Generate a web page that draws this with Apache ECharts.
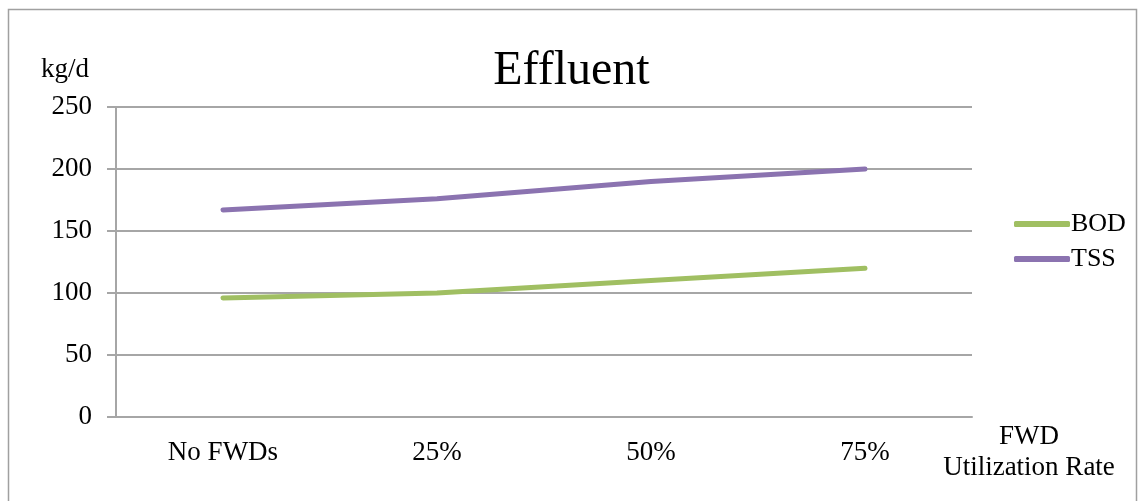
<!DOCTYPE html>
<html>
<head>
<meta charset="utf-8">
<title>Effluent</title>
<script src="https://cdn.jsdelivr.net/npm/echarts@6/dist/echarts.min.js"></script>
<style>
  html, body { margin: 0; padding: 0; background: #ffffff; }
  #chart { width: 1143px; height: 501px; }
</style>
</head>
<body>
<div id="chart"></div>
<script>
// Effluent loads (kg/d) by FWD utilization rate
const categories = ['No FWDs', '25%', '50%', '75%'];
const bodValues = [96, 100, 110, 120];
const tssValues = [167, 176, 190, 200];
const yTicks = { min: 0, max: 250, interval: 50 };

const serif = '"Liberation Serif", "DejaVu Serif", serif';
const gridGray = '#a6a6a6';

const chart = echarts.init(document.getElementById('chart'), null, { renderer: 'canvas' });

chart.setOption({
  backgroundColor: '#ffffff',
  animation: false,
  title: {
    text: 'Effluent',
    left: 'center',
    top: 42,
    textStyle: { fontFamily: serif, fontSize: 48, fontWeight: 'normal', color: '#000' }
  },
  legend: {
    orient: 'vertical',
    left: 1009,
    top: 206,
    itemWidth: 56,
    itemHeight: 6,
    itemGap: 9,
    icon: 'roundRect',
    data: ['BOD', 'TSS'],
    textStyle: { fontFamily: serif, fontSize: 26, color: '#000', padding: [0, 0, 0, -4] }
  },
  grid: { left: 116, right: 171, top: 107, bottom: 84 },
  xAxis: {
    type: 'category',
    data: categories,
    boundaryGap: true,
    name: 'FWD\nUtilization Rate',
    nameLocation: 'end',
    nameGap: 57,
    nameTextStyle: {
      fontFamily: serif, fontSize: 27, color: '#000',
      align: 'center', verticalAlign: 'top', lineHeight: 31, padding: [4, 0, 0, 0]
    },
    axisLine: { lineStyle: { color: gridGray, width: 2 } },
    axisTick: { show: false },
    axisLabel: { fontFamily: serif, fontSize: 27, color: '#000', margin: 22 }
  },
  yAxis: {
    type: 'value',
    min: yTicks.min,
    max: yTicks.max,
    interval: yTicks.interval,
    name: 'kg/d',
    nameLocation: 'end',
    nameGap: 37,
    nameTextStyle: {
      fontFamily: serif, fontSize: 27, color: '#000',
      align: 'right', verticalAlign: 'middle', padding: [0, 27, 0, 0]
    },
    axisLine: { show: true, lineStyle: { color: gridGray, width: 2 } },
    axisTick: { show: true, length: 9, lineStyle: { color: gridGray, width: 2 } },
    axisLabel: { fontFamily: serif, fontSize: 27, color: '#000', margin: 24 },
    splitLine: { lineStyle: { color: gridGray, width: 2 } }
  },
  series: [
    {
      name: 'BOD',
      type: 'line',
      data: bodValues,
      symbol: 'none',
      color: '#a0bf62',
      lineStyle: { width: 5, cap: 'round', join: 'round' }
    },
    {
      name: 'TSS',
      type: 'line',
      data: tssValues,
      symbol: 'none',
      color: '#8b73b0',
      lineStyle: { width: 5, cap: 'round', join: 'round' }
    }
  ],
  graphic: [
    {
      type: 'rect',
      silent: true,
      shape: { x: 8.5, y: 9.5, width: 1128, height: 500 },
      style: { fill: 'none', stroke: '#a0a0a0', lineWidth: 1.5 }
    }
  ]
});
</script>
</body>
</html>
